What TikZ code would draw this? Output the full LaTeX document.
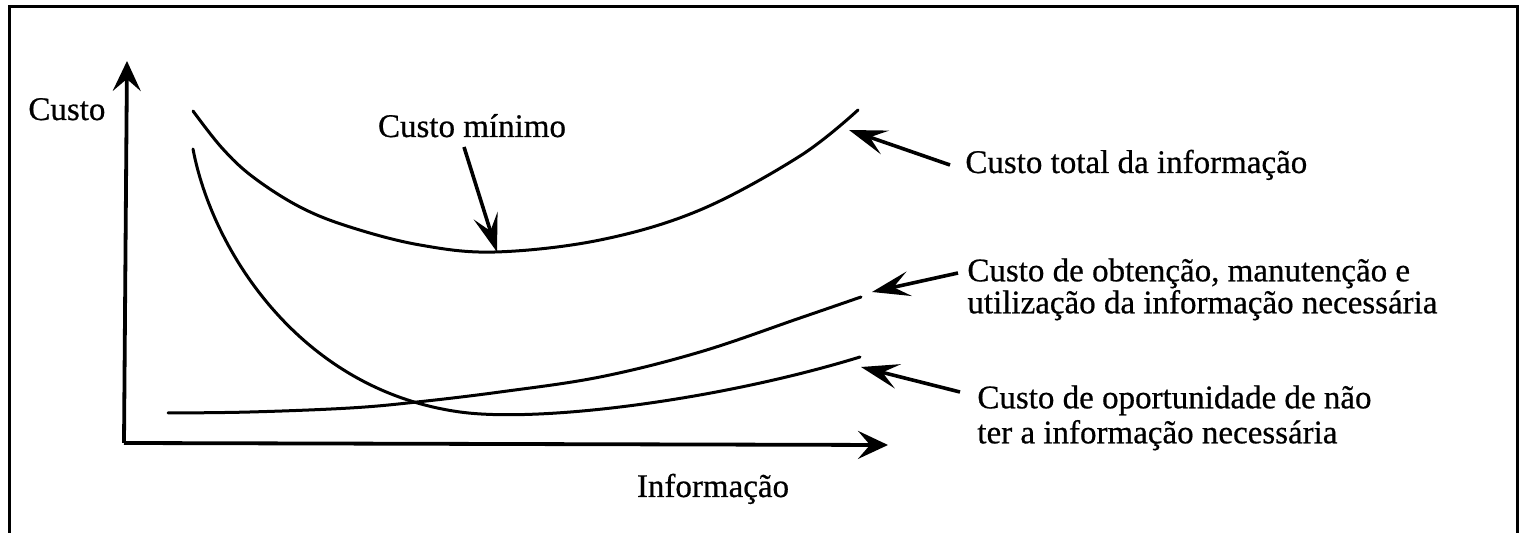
\documentclass[tikz,border=0pt]{standalone}
\usepackage{fontspec}
\setmainfont{Liberation Serif}[FakeBold=0.6]
\usetikzlibrary{arrows.meta}
\begin{document}
\begin{tikzpicture}[x=0.5pt,y=-0.5pt,
  frameline/.style={line width=1.5pt},
  axisline/.style={line width=1.9pt,-{Stealth[length=15pt,width=14pt,inset=6pt]}},
  curve/.style={line width=1.5pt,line cap=round},
  pointer/.style={line width=1.8pt,-{Stealth[length=19pt,width=12.5pt,inset=8pt]}},
  lbl/.style={inner sep=0pt,font=\fontsize{16.5}{16}\selectfont}]
\useasboundingbox (0,0) rectangle (1520,533);
\fill[white] (0,0) rectangle (1520,533);
% frame (open at bottom)
\draw[frameline] (9,533) -- (9,7) -- (1517,7) -- (1517,533);
% axes
\coordinate (O) at (124,443);
\coordinate (ytip) at (127,61);
\coordinate (xtip) at (888,445);
\draw[axisline] (O) -- (ytip);
\draw[axisline] (O) -- (xtip);
% curves
\draw[curve] plot[smooth,tension=0.6] coordinates {(193,111) (222,148) (253,177) (300,207) (350,227) (420,245) (495,252) (600,240) (700,210) (800,156) (858,110)};
\draw[curve] (193,149) .. controls (212,250) and (300,390) .. (460,412)
                       .. controls (540,423) and (720,400) .. (860,357);
\draw[curve] plot[smooth,tension=0.6] coordinates {(168,413) (250,412) (350,408) (417,402) (500,392) (600,377) (700,352) (800,318) (861,297)};
% pointed points
\coordinate (pmin) at (497,252);
\coordinate (ptot) at (849,130);
\coordinate (pobt) at (872,292);
\coordinate (popo) at (861,367);
% labels
\node[lbl,anchor=base west] (custo) at (28,120) {Custo};
\node[lbl,anchor=base] (minimo) at (472,137) {Custo mínimo};
\node[lbl,anchor=base] (info) at (713,497) {Informação};
\node[lbl,anchor=base west] (total) at (965,173) {Custo total da informação};
\node[lbl,anchor=north west,align=left] (obt) at (967,258) {Custo de obtenção, manutenção e\\utilização da informação necessária};
\node[lbl,anchor=north west,align=left,font=\fontsize{16.5}{17.5}\selectfont] (opo) at (977,385) {Custo de oportunidade de não\\ter a informação necessária};
% pointer arrows
\coordinate (tmin) at (464,147);
\coordinate (ttot) at (950,165);
\coordinate (tobt) at (958,273);
\coordinate (topo) at (960,392);
\draw[pointer] (tmin) -- (pmin);
\draw[pointer] (ttot) -- (ptot);
\draw[pointer] (tobt) -- (pobt);
\draw[pointer] (topo) -- (popo);
\end{tikzpicture}
\end{document}
